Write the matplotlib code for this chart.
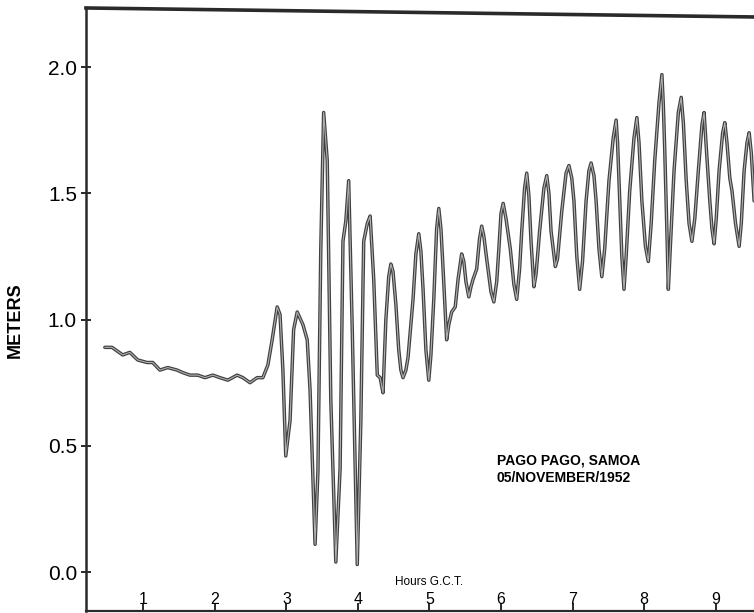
import matplotlib
matplotlib.use("Agg")
import matplotlib.pyplot as plt

plt.rcParams["font.family"] = ["Liberation Sans", "DejaVu Sans"]

# Tide gauge trace, Pago Pago (hours G.C.T., water level in meters)
hours = [
    0.46, 0.56, 0.71, 0.81, 0.92, 1.05, 1.13, 1.23, 1.34, 1.47,
    1.55, 1.65, 1.76, 1.86, 1.97, 2.07, 2.18, 2.31, 2.39, 2.49,
    2.59, 2.67, 2.74, 2.80, 2.87, 2.91, 2.95, 2.99, 3.05, 3.10,
    3.15, 3.23, 3.29, 3.33, 3.40, 3.44, 3.48, 3.52, 3.57, 3.62,
    3.69, 3.75, 3.79, 3.83, 3.87, 3.92, 3.99, 4.04, 4.08, 4.13,
    4.17, 4.22, 4.27, 4.31, 4.35, 4.39, 4.43, 4.46, 4.49, 4.53,
    4.57, 4.60, 4.63, 4.67, 4.70, 4.77, 4.81, 4.85, 4.88, 4.91,
    4.95, 4.99, 5.02, 5.06, 5.10, 5.13, 5.16, 5.19, 5.24, 5.27,
    5.31, 5.36, 5.40, 5.45, 5.48, 5.51, 5.55, 5.58, 5.61, 5.66,
    5.70, 5.73, 5.76, 5.80, 5.86, 5.90, 5.94, 5.97, 6.00, 6.03,
    6.07, 6.13, 6.18, 6.22, 6.26, 6.29, 6.33, 6.36, 6.39, 6.42,
    6.46, 6.49, 6.54, 6.60, 6.64, 6.67, 6.70, 6.76, 6.79, 6.85,
    6.91, 6.95, 6.99, 7.02, 7.06, 7.10, 7.14, 7.19, 7.23, 7.26,
    7.30, 7.33, 7.37, 7.41, 7.45, 7.51, 7.57, 7.61, 7.63, 7.66,
    7.69, 7.72, 7.75, 7.80, 7.86, 7.90, 7.93, 7.97, 8.02, 8.06,
    8.10, 8.15, 8.21, 8.25, 8.27, 8.29, 8.32, 8.34, 8.37, 8.42,
    8.48, 8.52, 8.55, 8.59, 8.63, 8.67, 8.71, 8.76, 8.81, 8.84,
    8.86, 8.88, 8.92, 8.95, 8.98, 9.01, 9.05, 9.10, 9.13, 9.16,
    9.20, 9.23, 9.28, 9.33, 9.36, 9.40, 9.44, 9.47, 9.50, 9.54,
]
meters = [
    0.89, 0.89, 0.86, 0.87, 0.84, 0.83, 0.83, 0.80, 0.81, 0.80,
    0.79, 0.78, 0.78, 0.77, 0.78, 0.77, 0.76, 0.78, 0.77, 0.75,
    0.77, 0.77, 0.82, 0.92, 1.05, 1.02, 0.80, 0.46, 0.60, 0.96,
    1.03, 0.98, 0.92, 0.72, 0.11, 0.40, 1.28, 1.82, 1.63, 0.68,
    0.04, 0.41, 1.31, 1.39, 1.55, 0.96, 0.03, 0.60, 1.31, 1.38,
    1.41, 1.16, 0.78, 0.77, 0.71, 1.00, 1.17, 1.22, 1.19, 1.06,
    0.88, 0.80, 0.77, 0.80, 0.85, 1.08, 1.26, 1.34, 1.27, 1.12,
    0.88, 0.76, 0.86, 1.08, 1.36, 1.44, 1.36, 1.20, 0.92, 0.98,
    1.03, 1.05, 1.16, 1.26, 1.23, 1.15, 1.09, 1.13, 1.16, 1.20,
    1.32, 1.37, 1.33, 1.24, 1.11, 1.07, 1.15, 1.28, 1.42, 1.46,
    1.40, 1.28, 1.14, 1.08, 1.20, 1.35, 1.52, 1.58, 1.49, 1.31,
    1.13, 1.18, 1.35, 1.52, 1.57, 1.50, 1.35, 1.21, 1.24, 1.43,
    1.58, 1.61, 1.56, 1.47, 1.25, 1.12, 1.23, 1.47, 1.59, 1.62,
    1.57, 1.47, 1.28, 1.17, 1.28, 1.55, 1.72, 1.79, 1.70, 1.47,
    1.25, 1.12, 1.25, 1.51, 1.72, 1.80, 1.70, 1.47, 1.29, 1.23,
    1.38, 1.63, 1.86, 1.97, 1.85, 1.67, 1.35, 1.12, 1.30, 1.59,
    1.82, 1.88, 1.78, 1.55, 1.38, 1.31, 1.40, 1.59, 1.77, 1.82,
    1.73, 1.64, 1.47, 1.36, 1.30, 1.40, 1.59, 1.74, 1.78, 1.70,
    1.56, 1.51, 1.38, 1.29, 1.38, 1.59, 1.70, 1.74, 1.66, 1.47,
]

y_ticks = [0.0, 0.5, 1.0, 1.5, 2.0]
y_tick_labels = ["0.0", "0.5", "1.0", "1.5", "2.0"]
x_ticks = [1, 2, 3, 4, 5, 6, 7, 8, 9]
x_tick_labels = ["1", "2", "3", "4", "5", "6", "7", "8", "9"]

fig = plt.figure(figsize=(7.54, 6.13), dpi=100)
ax = fig.add_axes([0.114, 0.0033, 0.886, 0.9837])
ax.set_xlim(0.196, 9.538)
ax.set_ylim(-0.154, 2.234)

# pen trace: dark edges with a lighter core
ax.plot(hours, meters, color="#404040", lw=2.5, solid_joinstyle="round",
        solid_capstyle="round", zorder=3)
ax.plot(hours, meters, color="#b0b0b0", lw=0.8, solid_joinstyle="round",
        solid_capstyle="round", zorder=4)

# frame: left and bottom spines, slanted top border, open on the right
for side in ("top", "right"):
    ax.spines[side].set_visible(False)
ax.spines["left"].set_linewidth(1.8)
ax.spines["left"].set_color("#2a2a2a")
ax.spines["bottom"].set_linewidth(1.6)
ax.spines["bottom"].set_color("#2a2a2a")
ax.plot([0, 1], [1.0, 1.0 - 9 / 603], transform=ax.transAxes,
        color="#2a2a2a", lw=2.6, clip_on=False, zorder=5)

ax.set_yticks(y_ticks)
ax.set_yticklabels(y_tick_labels)
ax.tick_params(axis="y", direction="inout", length=7, width=1.4,
               labelsize=15, pad=3, color="#2a2a2a")

ax.set_xticks(x_ticks)
ax.set_xticklabels(x_tick_labels)
ax.tick_params(axis="x", direction="in", length=6, width=1.4,
               labelsize=11.5, pad=-13.5, color="#2a2a2a")

fig.text(15 / 754, 1 - 320 / 613, "METERS", fontsize=13, fontweight="bold",
         rotation=90, ha="center", va="center")

ax.text(5.0, -0.04, "Hours G.C.T.", fontsize=8.5, ha="center", va="center")
ax.text(5.94, 0.47, "PAGO PAGO, SAMOA\n05/NOVEMBER/1952", fontsize=10,
        fontweight="bold", ha="left", va="top", linespacing=1.3)

fig.savefig("out.png", dpi=100)
